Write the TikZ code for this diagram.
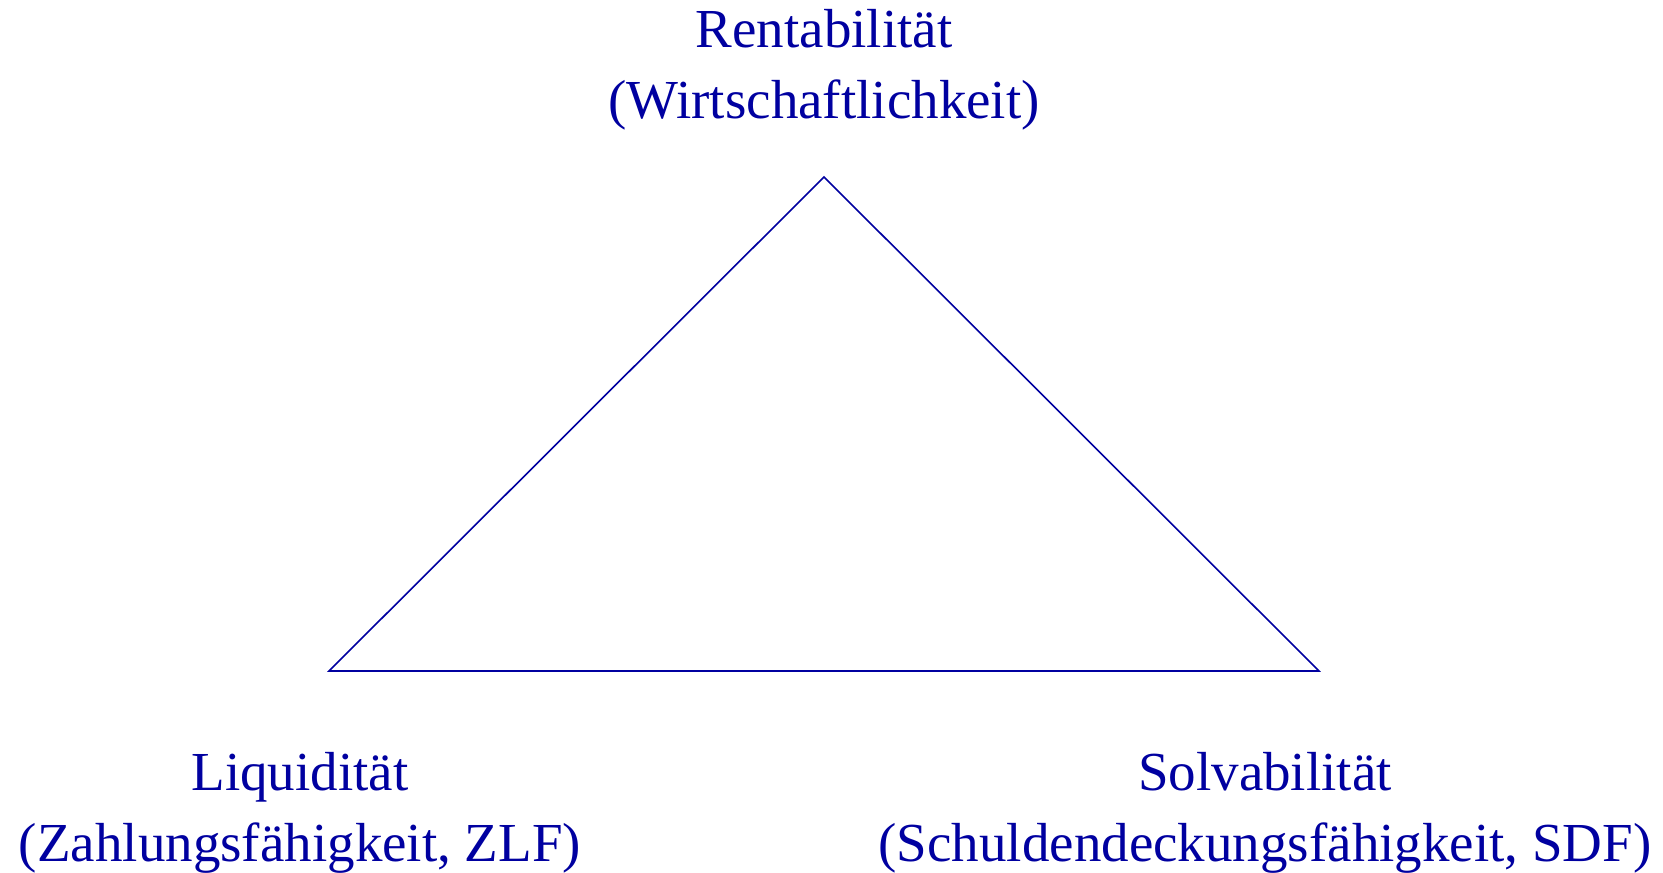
\documentclass[tikz,border=0pt]{standalone}
\usepackage{fontspec}
\setmainfont{Liberation Serif}
\definecolor{navy}{RGB}{0,0,160}
\begin{document}
\begin{tikzpicture}[x=1pt,y=-1pt,
  lbl/.style={text=navy,font=\fontsize{55}{71}\selectfont,align=center,inner sep=0pt,anchor=base},
  edge/.style={draw=navy,line width=1.6pt,line join=miter}]
\useasboundingbox (0,0) rectangle (1663,873);
\coordinate (top) at (824,177);
\coordinate (left) at (329,671);
\coordinate (right) at (1319,671);
\draw[edge] (top) -- (right) -- (left) -- cycle;
\node[lbl] (rent) at (824,118) {Rentabilität\\(Wirtschaftlichkeit)};
\node[lbl] (liq) at (300,861) {Liquidität\\(Zahlungsfähigkeit, ZLF)};
\node[lbl] (solv) at (1265,861) {Solvabilität\\(Schuldendeckungsfähigkeit, SDF)};
\end{tikzpicture}
\end{document}
